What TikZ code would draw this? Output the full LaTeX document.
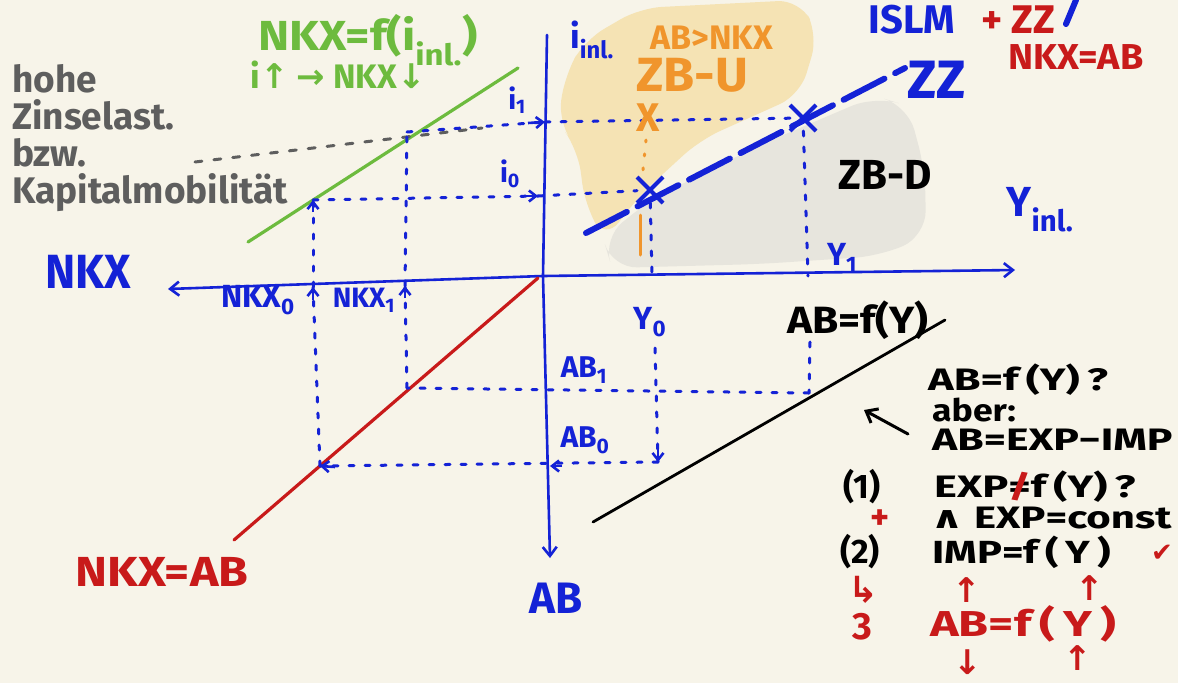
\documentclass[tikz,border=0pt]{standalone}
\usepackage{fontspec}
\usepackage{graphicx}
\setmainfont{Fira Sans}
\newfontfamily\symf{DejaVu Sans}
\usetikzlibrary{arrows.meta,shapes.misc}
\definecolor{bg}{HTML}{F7F4E9}
\definecolor{pblue}{HTML}{1422D6}
\definecolor{pred}{HTML}{C81A1A}
\definecolor{pgreen}{HTML}{6DBB3E}
\definecolor{porange}{HTML}{F0952C}
\definecolor{pgray}{HTML}{5E5E5E}
\definecolor{hlyellow}{HTML}{F5E3B4}
\definecolor{hlgray}{HTML}{E7E5DD}
\newcommand{\fs}[1]{\fontsize{#1}{#1}\selectfont\bfseries}
\newcommand{\sbs}[1]{\textsubscript{#1}}
\newcommand{\hs}[2]{\scalebox{#1}[1]{#2}}
\begin{document}
\begin{tikzpicture}[x=1pt,y=-1pt,
  axis/.style={pblue,line width=2.6pt,line cap=round},
  tip/.style={-{Straight Barb[length=9pt,width=14pt,line width=2.6pt]}},
  stip/.style={pblue,line width=2.6pt,-{Straight Barb[length=7pt,width=11pt,line width=2.6pt]}},
  proj/.style={pblue,line width=3pt,line cap=round,dash pattern=on 5pt off 11pt},
  curve/.style={line width=3.2pt,line cap=round},
  zz/.style={pblue,line width=6pt,line cap=round,dash pattern=on 46pt off 12pt},
  xmark/.style={cross out,draw=pblue,line width=4pt,minimum size=22pt,inner sep=0pt},
  bl/.style={text=pblue,inner sep=0pt},
  rd/.style={text=pred,inner sep=0pt},
  gr/.style={text=pgreen,inner sep=0pt},
  og/.style={text=porange,inner sep=0pt},
  bk/.style={text=black,inner sep=0pt},
  gy/.style={text=pgray,inner sep=0pt}]
\fill[bg] (0,0) rectangle (1178,683);
\useasboundingbox (0,0) rectangle (1178,683);
% highlight regions
\fill[hlyellow,rounded corners=22pt] (585,40) -- (640,8) -- (800,0) -- (818,35) -- (800,95) -- (700,140) -- (640,195) -- (605,240) -- (585,205) -- (578,150) -- (558,122) -- (565,75) -- cycle;
\fill[hlgray,rounded corners=25pt] (612,268) -- (603,238) -- (650,200) -- (760,145) -- (875,96) -- (908,106) -- (925,170) -- (926,236) -- (880,256) -- (760,264) -- cycle;
% coordinates
\coordinate (O) at (543,276);
\coordinate (nkxend) at (168,289);
\coordinate (yend) at (1015,270);
\coordinate (itop) at (547,35);
\coordinate (abend) at (550,558);
% axes
\draw[axis,tip] (O) -- (nkxend);
\draw[axis,tip] (O) -- (yend);
\draw[axis] (O) -- (itop);
\draw[axis,tip] (O) -- (abend);
% curves
\coordinate (g1) at (248,242); \coordinate (g2) at (518,68);
\draw[curve,pgreen] (g1) -- (g2);
\coordinate (r1) at (538,278); \coordinate (r2) at (234,540);
\draw[curve,pred] (r1) -- (r2);
\coordinate (b1) at (593,522); \coordinate (b2) at (945,320);
\draw[curve,black,line width=2.8pt] (b1) -- (b2);
\coordinate (z1) at (586,233); \coordinate (z2) at (905,68);
\draw[zz] (z1) -- (z2);
\node[xmark] (E0) at (650,190) {};
\node[xmark] (E1) at (803,118) {};
% gray dashed (capital mobility)
\coordinate (gd1) at (195,162); \coordinate (gd2) at (482,128);
\draw[pgray,line width=3pt,line cap=round,dash pattern=on 7pt off 12pt] (gd1) -- (gd2);
% projection points
\coordinate (N0) at (313,287); \coordinate (G0) at (313,200);
\coordinate (N1) at (405,286); \coordinate (G1) at (407,132);
\coordinate (I0) at (538,196); \coordinate (I1) at (545,122);
\coordinate (R0) at (320,466); \coordinate (R1) at (407,388);
\coordinate (A0) at (550,466); \coordinate (A1) at (548,390);
\coordinate (YB0) at (658,462); \coordinate (B1) at (809,393);
\coordinate (Y0a) at (652,276); \coordinate (Y1a) at (808,276);
\coordinate (Y1b) at (810,342);
\draw[proj] (R0) -- (N0);
\draw[proj] (N0) -- (G0);
\draw[proj] (G0) -- (I0);
\draw[proj] (I0) -- (E0);
\draw[proj] (R1) -- (N1);
\draw[proj] (N1) -- (G1);
\draw[proj] (G1) -- (I1);
\draw[proj] (I1) -- (E1);
\draw[proj] (E0) -- (Y0a);
\draw[proj] (E1) -- (Y1a);
\draw[proj] (Y1b) -- (B1);
\draw[proj] (B1) -- (R1);
\draw[proj] (YB0) -- (R0);
% small arrowheads
\coordinate (aN0) at (313,300); \coordinate (aN1) at (405,298);
\coordinate (aG0) at (313,212); \coordinate (aI0) at (522,196);
\coordinate (aI1) at (528,123); \coordinate (aYB) at (658,448);
\coordinate (aA0) at (562,466); \coordinate (aR0) at (335,467);
\draw[stip] (aN0) -- (N0);
\draw[stip] (aN1) -- (N1);
\draw[stip] (aG0) -- (G0);
\draw[stip] (aI0) -- (I0);
\draw[stip] (aI1) -- (I1);
\draw[stip] (aYB) -- (YB0);
\draw[stip] (aA0) -- (A0);
\draw[stip] (aR0) -- (R0);
% orange marks
\coordinate (oX1) at (646,140); \coordinate (oX2) at (643,170);
\draw[porange,line width=3pt,line cap=round,dash pattern=on 2pt off 12pt] (oX1) -- (oX2);
\coordinate (oL1) at (640,215); \coordinate (oL2) at (640,255);
\draw[porange,line width=3pt,line cap=round] (oL1) -- (oL2);
% blue stroke top right
\coordinate (bs1) at (1066,24); \coordinate (bs2) at (1076,0);
\draw[pblue,line width=6pt,line cap=round] (bs1) -- (bs2);
% labels blue
\node[bl,font=\fs{48}] (lNKX) at (88,272) {\hs{0.95}{NKX}};
\node[bl,font=\fs{34}] (lI) at (592,40) {i\sbs{inl.}};
\node[bl,font=\fs{28}] (li1) at (517,100) {i\sbs{1}};
\node[bl,font=\fs{28}] (li0) at (510,174) {i\sbs{0}};
\node[bl,font=\fs{42}] (lY) at (1040,210) {Y\sbs{inl.}};
\node[bl,font=\fs{32}] (lY1) at (842,258) {Y\sbs{1}};
\node[bl,font=\fs{32}] (lY0) at (650,322) {Y\sbs{0}};
\coordinate (Y0b) at (655,348);
\draw[proj] (Y0b) -- (YB0);
\node[bl,font=\fs{32}] (lN0) at (258,300) {NKX\sbs{0}};
\node[bl,font=\fs{28}] (lN1) at (364,300) {NKX\sbs{1}};
\node[bl,font=\fs{30}] (lA1) at (584,370) {AB\sbs{1}};
\node[bl,font=\fs{30}] (lA0) at (585,440) {AB\sbs{0}};
\node[bl,font=\fs{44}] (lAB) at (556,598) {AB};
\node[bl,font=\fs{54}] (lZZ) at (937,80) {ZZ};
\node[bl,font=\fs{40}] (lISLM) at (912,20) {ISLM};
% red labels
\node[rd,font=\fs{40}] (lplus) at (1018,20) {+ ZZ};
\node[rd,font=\fs{36}] (lNA) at (1076,57) {\hs{1.05}{NKX=AB}};
\node[rd,font=\fs{42}] (lNA2) at (162,572) {\hs{1.15}{NKX=AB}};
% green labels
\node[gr,font=\fs{42}] (lG1) at (368,40) {\hs{1.12}{NKX=f(i\sbs{inl.})}};
\node[gr,font=\fs{34}] (lG2) at (338,75) {i{\symf↑} {\symf→} NKX{\symf↓}};
% gray label
\node[gy,font=\fs{37},align=left,anchor=north west,text depth=0pt] (lGray) at (12,64) {\fontsize{37}{38}\selectfont hohe\\Zinselast.\\bzw.\\Kapitalmobilität};
% orange labels
\node[og,font=\fs{34}] (lO1) at (712,38) {AB>NKX};
\node[og,font=\fs{48}] (lO2) at (692,75) {\hs{1.05}{ZB-U}};
\node[og,font=\fs{40}] (lOX) at (648,118) {X};
% black labels
\node[bk,font=\fs{42}] (lZBD) at (885,175) {ZB-D};
\node[bk,font=\fs{38}] (lABf) at (858,320) {\hs{1.12}{AB=f(Y)}};
\node[bk,font=\fs{31},anchor=west] (t1) at (928,380) {\hs{1.4}{AB=f\,(Y)\,?}};
\node[bk,font=\fs{31},anchor=west] (t2) at (932,410) {\hs{1.15}{aber:}};
\node[bk,font=\fs{31},anchor=west] (t3) at (932,440) {\hs{1.38}{AB=EXP−IMP}};
\node[bk,font=\fs{34}] (t4a) at (862,487) {(1)};
\node[bk,font=\fs{31},anchor=west] (t4) at (934,487) {\hs{1.4}{EXP\ooalign{=\cr\hidewidth\textcolor{pred}{/}\hidewidth\cr}f\,(Y)\,?}};
\node[rd,font=\fs{36}] (t5a) at (880,520) {+};
\node[bk,font=\fs{31},anchor=west] (t5) at (930,518) {\hs{1.35}{{\symf∧} EXP=const}};
\node[bk,font=\fs{34}] (t6a) at (860,552) {(2)};
\node[bk,font=\fs{32},anchor=west] (t6) at (932,552) {\hs{1.3}{IMP=f\,(\,Y\,)}};
\node[rd,font=\fs{26}] (t6c) at (1162,553) {\symf✔};
\node[rd,font=\fs{36}] (u1) at (864,590) {\symf↳};
\node[rd,font=\fs{34}] (u2) at (967,590) {\symf↑};
\node[rd,font=\fs{34}] (u3) at (1090,588) {\symf↑};
\node[rd,font=\fs{38}] (u4) at (862,627) {3};
\node[rd,font=\fs{36},anchor=west] (t7) at (930,624) {\hs{1.35}{AB=f\,(\,Y\,)}};
\node[rd,font=\fs{34}] (u5) at (968,662) {\symf↓};
\node[rd,font=\fs{34}] (u6) at (1078,658) {\symf↑};
% black arrow
\coordinate (ka1) at (908,434); \coordinate (ka2) at (864,410);
\draw[black,line width=3pt,line cap=round,-{Straight Barb[length=10pt,width=16pt,line width=3pt]}] (ka1) -- (ka2);
\end{tikzpicture}
\end{document}
